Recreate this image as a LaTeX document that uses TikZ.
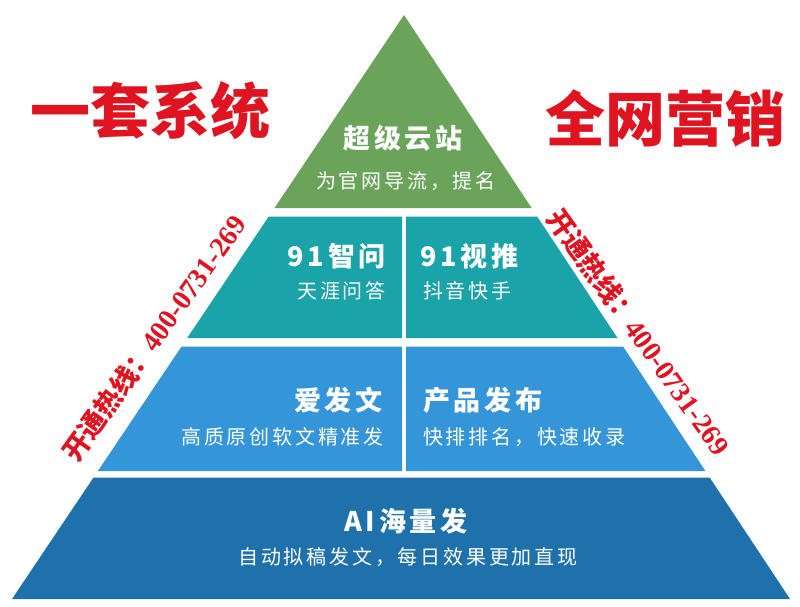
\documentclass[tikz,border=0pt]{standalone}
\usepackage{fontspec}
\setmainfont{Liberation Serif}
\newfontfamily\cjk{Noto Sans CJK SC}[LetterSpace=14]
\newfontfamily\cjkred{Noto Sans CJK SC}
\definecolor{topgreen}{RGB}{106,164,90}
\definecolor{midteal}{RGB}{26,163,169}
\definecolor{lightblue}{RGB}{52,150,217}
\definecolor{darkblue}{RGB}{31,113,172}
\definecolor{hotred}{RGB}{224,20,32}

\begin{document}
\begin{tikzpicture}[x=1pt,y=-1pt,
  head/.style={text=white,inner sep=0pt,font=\cjk\bfseries\fontsize{27}{27}\selectfont},
  sub/.style={text=white,inner sep=0pt,font=\cjk\fontsize{20}{20}\selectfont},
  slogan/.style={text=hotred,inner sep=0pt,font=\cjkred\bfseries\fontsize{60}{60}\selectfont},
  hotline/.style={text=hotred,inner sep=0pt,font=\cjkred\bfseries\fontsize{27}{27}\selectfont}]
\useasboundingbox[fill=white] (0,0) rectangle (800,607);

% pyramid bands
\fill[topgreen] (404,15) -- (531.6,208) -- (274.5,208) -- cycle;
\fill[midteal] (268.6,216.7) -- (402,216.7) -- (402,338) -- (187.2,338) -- cycle;
\fill[midteal] (406,216.7) -- (537.3,216.7) -- (617.5,338) -- (406,338) -- cycle;
\fill[lightblue] (181.4,346.7) -- (402,346.7) -- (402,471) -- (97.9,471) -- cycle;
\fill[lightblue] (406,346.7) -- (623.2,346.7) -- (705.4,471) -- (406,471) -- cycle;
\fill[darkblue] (93.4,477.7) -- (709.8,477.7) -- (790,599) -- (12,599) -- cycle;

% texts
\path (403,138) node[head] (yunzhan) {超级云站};
\path (406,181) node[sub] (yunzhansub) {为官网导流，提名};

\path (386,256) node[head,anchor=east] (zhiwen) {91智问};
\path (386,291) node[sub,anchor=east] (zhiwensub) {天涯问答};
\path (420,256) node[head,anchor=west] (shitui) {91视推};
\path (423,291) node[sub,anchor=west] (shituisub) {抖音快手};

\path (383,400) node[head,anchor=east] (aifawen) {爱发文};
\path (384,437) node[sub,anchor=east] (aifawensub) {高质原创软文精准发};
\path (423,400) node[head,anchor=west] (fabu) {产品发布};
\path (423,437) node[sub,anchor=west] (fabusub) {快排排名，快速收录};

\path (406,521) node[head] (haifa) {AI海量发};
\path (408,557) node[sub] (haifasub) {自动拟稿发文，每日效果更加直现};

% slogans
\path (150,111) node[slogan] (leftslogan) {一套系统};
\path (665,118) node[slogan] (rightslogan) {全网营销};

% hotlines
\path (154,338) node[hotline,rotate=54.5] (lefthot) {开通热线：{\rmfamily\fontsize{28}{28}\selectfont 400-0731-269}};
\path (639,332) node[hotline,rotate=-54.5] (righthot) {开通热线：{\rmfamily\fontsize{28}{28}\selectfont 400-0731-269}};
\end{tikzpicture}
\end{document}
